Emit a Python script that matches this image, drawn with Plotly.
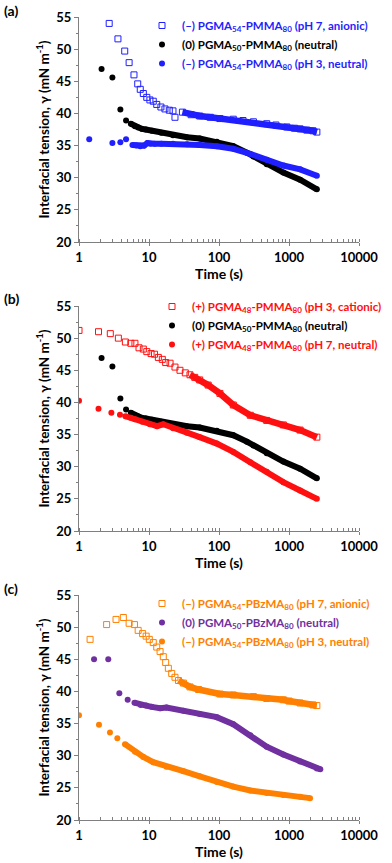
import plotly.graph_objects as go
from plotly.subplots import make_subplots

# ---- data (time in s, tension in mN/m) ----
# PGMA50-PMMA80, neutral (shared by panels a and b)
t_neutral_pmma = [2.1, 3.0, 3.9, 4.7, 5.5, 6.3, 7.0, 7.9, 9.0, 11, 15, 22, 35, 53, 93, 160, 250, 310, 480, 830, 1440, 2500]
y_neutral_pmma = [46.9, 45.6, 40.6, 38.9, 38.4, 38.0, 37.8, 37.6, 37.5, 37.3, 37.0, 36.6, 36.3, 36.1, 35.6, 34.9, 33.9, 33.3, 32.1, 30.8, 29.7, 28.2]

# panel a
t_a_ph7 = [2.7, 3.6, 4.5, 5.2, 6.1, 6.9, 7.5, 8.3, 9.3, 10.3, 11.5, 12.9, 14.8, 16.9, 19.5, 22, 23.5,
           30, 40, 53, 75, 103, 160, 220, 310, 480, 650, 930, 1200, 1440, 1800, 2200, 2500]
y_a_ph7 = [54.0, 51.6, 49.7, 47.9, 46.0, 44.6, 43.75, 43.1, 42.5, 42.1, 41.9, 41.4, 41.0, 40.7, 40.5, 40.4, 39.4,
           40.2, 39.8, 39.6, 39.4, 39.2, 39.1, 38.9, 38.7, 38.4, 38.2, 37.9, 37.7, 37.6, 37.4, 37.3, 37.1]
t_a_ph3 = [1.4, 3.0, 3.9, 4.7, 5.8, 6.6, 7.5, 8.5, 9.5, 10.5, 12, 15, 22, 35, 53, 93, 160, 280, 480, 830, 1440, 2500]
y_a_ph3 = [36.0, 35.4, 35.5, 36.0, 35.1, 35.0, 34.9, 35.0, 35.4, 35.3, 35.3, 35.3, 35.3, 35.2, 35.1, 34.9, 34.5, 33.7, 32.8, 31.9, 31.3, 30.3]

# panel b
t_b_ph3 = [1.0, 1.9, 2.8, 3.65, 4.6, 5.5, 6.3, 7.2, 8.3, 9.3, 10.7, 12, 13.6, 15.5, 17.3, 20, 23.5, 27.7, 33,
           38.5, 45, 53, 70, 103, 160, 280, 480, 830, 1440, 2500]
y_b_ph3 = [51.2, 51.0, 50.7, 50.0, 49.4, 49.2, 49.2, 48.5, 48.3, 47.9, 47.6, 47.5, 47.0, 46.7, 46.2, 46.1, 45.5, 45.0, 44.6,
           44.3, 43.9, 43.5, 42.7, 41.4, 39.6, 38.0, 37.2, 36.5, 35.7, 34.6]
t_b_ph7 = [1.0, 1.9, 2.9, 3.85, 4.6, 5.5, 6.3, 8, 10.3, 13, 16, 22, 35, 53, 93, 160, 280, 480, 830, 1440, 2500]
y_b_ph7 = [40.25, 39.0, 38.4, 38.1, 37.85, 37.6, 37.4, 37.0, 36.6, 36.3, 36.6, 36.0, 35.3, 34.6, 33.6, 32.3, 30.7, 29.2, 27.6, 26.3, 25.0]

# panel c
t_c_ph7 = [1.44, 2.48, 3.38, 4.3, 5.2, 6.2, 7.0, 8.1, 9.1, 10.1, 11.5, 12.9, 14.4, 16, 17.3, 18.9, 21.1, 23.5, 26.4,
           31, 38.5, 51, 103, 160, 310, 480, 830, 1000, 1440, 2200, 2500]
y_c_ph7 = [48.1, 50.4, 51.2, 51.5, 50.6, 50.4, 49.5, 49.0, 48.6, 48.1, 47.6, 46.9, 46.2, 45.4, 44.5, 43.6, 42.8, 42.2, 41.7,
           41.3, 40.7, 40.3, 39.6, 39.45, 39.2, 38.9, 38.7, 38.5, 38.2, 37.9, 37.8]
t_c_neutral = [1.64, 2.62, 3.77, 4.96, 6.2, 7.6, 9.1, 10.9, 14.4, 17.8, 31, 53, 93, 160, 280, 480, 830, 1440, 2500, 2800]
y_c_neutral = [45.0, 45.0, 39.7, 38.7, 38.25, 37.9, 37.8, 37.6, 37.4, 37.5, 37.0, 36.5, 36.0, 34.9, 33.2, 31.4, 30.2, 29.1, 28.0, 27.9]
t_c_ph3 = [1.0, 1.93, 2.77, 3.53, 4.54, 6.3, 8.3, 11.5, 17.8, 31, 53, 93, 160, 280, 480, 830, 1440, 2000]
y_c_ph3 = [36.3, 34.8, 33.6, 32.7, 31.8, 30.6, 29.8, 29.0, 28.3, 27.6, 26.8, 25.9, 25.2, 24.6, 24.2, 23.9, 23.6, 23.4]

x_tickvals = [1, 10, 100, 1000, 10000]
x_ticktext = ["1", "10", "100", "1000", "10000"]

BLUE = "#1f1fff"
RED = "#ff1010"
ORANGE = "#ff8000"
PURPLE = "#7030a0"
BLACK = "#000000"

FONT = "Lato"

fig = make_subplots(rows=3, cols=1)


def add_series(t, y, name, color, is_open, row, legend, band_from):
    # dense part of the record: points overlap into a continuous band
    tb = [a for a in t if a >= band_from]
    yb = [b for a, b in zip(t, y) if a >= band_from]
    fig.add_trace(go.Scatter(x=tb, y=yb, mode="lines", line=dict(color=color, width=6.5 if is_open else 6),
                             showlegend=False, hoverinfo="skip"), row=row, col=1)
    if is_open:
        marker = dict(symbol="square-open", size=6, color=color, line=dict(width=1, color=color))
    else:
        marker = dict(symbol="circle", size=6, color=color)
    label = '<span style="color:%s">%s</span>' % (color, name)
    fig.add_trace(go.Scatter(x=t, y=y, mode="markers", marker=marker, name=label, legend=legend,
                             legendgroup=label + legend),
                  row=row, col=1)


sub = lambda s: "<sub>%s</sub>" % s

add_series(t_a_ph7, y_a_ph7, "(–) PGMA" + sub(54) + "-PMMA" + sub(80) + " (pH 7, anionic)", BLUE, True, 1, "legend", 25)
add_series(t_neutral_pmma, y_neutral_pmma, "(0) PGMA" + sub(50) + "-PMMA" + sub(80) + " (neutral)", BLACK, False, 1, "legend", 5)
add_series(t_a_ph3, y_a_ph3, "(–) PGMA" + sub(54) + "-PMMA" + sub(80) + " (pH 3, neutral)", BLUE, False, 1, "legend", 5.5)

add_series(t_b_ph3, y_b_ph3, "(+) PGMA" + sub(48) + "-PMMA" + sub(80) + " (pH 3, cationic)", RED, True, 2, "legend2", 35)
add_series(t_neutral_pmma, y_neutral_pmma, "(0) PGMA" + sub(50) + "-PMMA" + sub(80) + " (neutral)", BLACK, False, 2, "legend2", 5)
add_series(t_b_ph7, y_b_ph7, "(+) PGMA" + sub(48) + "-PMMA" + sub(80) + " (pH 7, neutral)", RED, False, 2, "legend2", 4.5)

add_series(t_c_ph7, y_c_ph7, "(–) PGMA" + sub(54) + "-PBzMA" + sub(80) + " (pH 7, anionic)", ORANGE, True, 3, "legend3", 25)
add_series(t_c_neutral, y_c_neutral, "(0) PGMA" + sub(50) + "-PBzMA" + sub(80) + " (neutral)", PURPLE, False, 3, "legend3", 5)
add_series(t_c_ph3, y_c_ph3, "(–) PGMA" + sub(54) + "-PBzMA" + sub(80) + " (pH 3, neutral)", ORANGE, False, 3, "legend3", 4.5)

W, H = 392, 863
x_dom = [79 / W, 359 / W]
panels = [(17, 242), (306, 531), (595, 820)]

axis_line = "#7f7f7f"
for i, (top, bot) in enumerate(panels, start=1):
    fig.update_xaxes(type="log", range=[0, 4], tickmode="array", tickvals=x_tickvals, ticktext=x_ticktext,
                     domain=x_dom, showline=True, linecolor=axis_line, linewidth=1.3, ticks="outside", ticklen=3,
                     tickcolor=axis_line, showgrid=False, zeroline=False,
                     minor=dict(ticks="inside", ticklen=3, tickcolor=axis_line, dtick="D1", showgrid=False),
                     tickfont=dict(size=13, family=FONT, color="black", weight="bold"),
                     title=dict(text="Time (s)", standoff=2,
                                font=dict(size=14, family=FONT, color="black", weight="bold")),
                     row=i, col=1)
    fig.update_yaxes(range=[20, 55], dtick=5, domain=[1 - bot / H, 1 - top / H],
                     showline=True, linecolor=axis_line, linewidth=1.3, ticks="outside", ticklen=4,
                     tickcolor=axis_line, showgrid=False, zeroline=False,
                     minor=dict(ticks="outside", ticklen=2, tickcolor=axis_line, dtick=2.5, showgrid=False),
                     tickfont=dict(size=13, family=FONT, color="black", weight="bold"),
                     title=dict(text="Interfacial tension, γ (mN m<sup>-1</sup>)", standoff=3,
                                font=dict(size=13.5, family=FONT, color="black", weight="bold")),
                     row=i, col=1)
    fig.add_annotation(text="(%s)" % "abc"[i - 1], x=2 / W, y=1 - (top - 7) / H, xref="paper", yref="paper",
                       xanchor="left", yanchor="middle", showarrow=False,
                       font=dict(size=14, family=FONT, color="black", weight="bold"))

legend_style = dict(bgcolor="rgba(0,0,0,0)", borderwidth=0, xanchor="left", yanchor="top",
                    font=dict(size=11.5, family=FONT, weight="bold"), itemwidth=30, tracegroupgap=0)
fig.update_layout(
    width=W, height=H, margin=dict(l=0, r=0, t=0, b=0, autoexpand=False),
    paper_bgcolor="white", plot_bgcolor="white",
    font=dict(family=FONT),
    legend=dict(x=142 / W, y=1 - 11 / H, **legend_style),
    legend2=dict(x=152 / W, y=1 - 292 / H, **legend_style),
    legend3=dict(x=142 / W, y=1 - 589 / H, **legend_style),
)

# the default page body has an 8px margin; drop it so the figure fills the window
fig.write_html("out.html", config={"displayModeBar": False},
               post_script="document.body.style.margin='0';")
